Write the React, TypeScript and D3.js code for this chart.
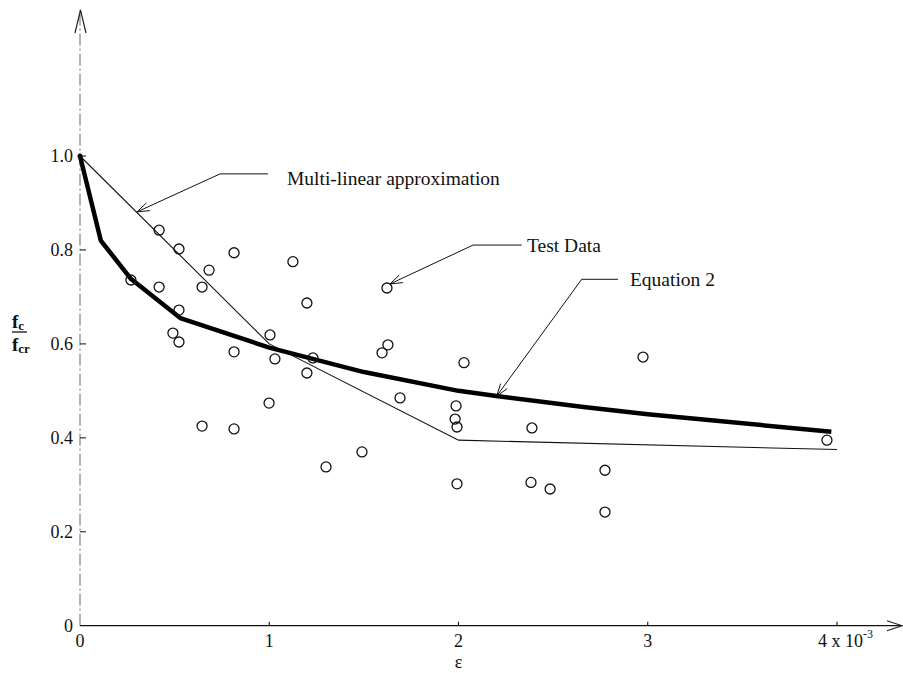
import React from "react";
import * as d3 from "d3";

// Test data (strain x 10^-3, fc/fcr)
const testX = [0.418, 0.523, 0.814, 1.125, 0.682, 0.269, 0.418, 0.645, 0.523, 0.491, 0.523, 0.814, 1.004, 1.030, 0.999, 0.645, 0.814, 1.199, 1.231, 1.199, 1.622, 1.627, 1.596, 2.029, 1.691, 1.987, 1.982, 1.992, 2.388, 1.300, 1.490, 1.992, 2.383, 2.484, 2.774, 2.774, 2.975, 3.947];
const testY = [0.842, 0.802, 0.794, 0.775, 0.757, 0.736, 0.721, 0.721, 0.672, 0.623, 0.604, 0.583, 0.619, 0.568, 0.474, 0.425, 0.419, 0.687, 0.570, 0.538, 0.719, 0.598, 0.581, 0.560, 0.485, 0.468, 0.440, 0.423, 0.421, 0.338, 0.370, 0.302, 0.305, 0.291, 0.331, 0.242, 0.572, 0.395];

// Multi-linear approximation
const multiX = [0, 1.0, 2.0, 4.0];
const multiY = [1.0, 0.6, 0.395, 0.375];

// Equation 2
const eqX = [0, 0.11, 0.27, 0.53, 1.0, 1.5, 2.0, 2.2, 2.65, 3.0, 3.97];
const eqY = [1.0, 0.82, 0.738, 0.655, 0.592, 0.54, 0.5, 0.489, 0.466, 0.45, 0.413];

const xTicks = [0, 1, 2, 3];
const xTickLabels = ["0", "1", "2", "3"];
const yTicks = [0, 0.2, 0.4, 0.6, 0.8, 1.0];
const yTickLabels = ["0", "0.2", "0.4", "0.6", "0.8", "1.0"];

// annotations
const annLabels = ["Multi-linear approximation", "Test Data", "Equation 2"];
const annTipX = [0.301, 1.638, 2.202];
const annTipY = [0.881, 0.7275, 0.489];
const annElbowX = [0.740, 2.077, 2.651];
const annElbowY = [0.9619, 0.8104, 0.7375];
const annEndX = [0.9934, 2.334, 2.843];
const annTextX = [1.094, 2.362, 2.906];
const annTextY = [0.9383, 0.7956, 0.7232];

const FONT = "'Liberation Serif', 'Times New Roman', serif";

export default function App() {
  const x = d3.scaleLinear().domain([0, 4]).range([80, 837]);
  const y = d3.scaleLinear().domain([0, 1]).range([625.7, 156]);

  const line = d3.line<[number, number]>().x((d) => x(d[0])).y((d) => y(d[1]));
  const multiPts: [number, number][] = multiX.map((v, i) => [v, multiY[i]]);
  const eqPts: [number, number][] = eqX.map((v, i) => [v, eqY[i]]);

  const x0 = x(0);
  const y0 = y(0);

  const arrowHead = (tx: number, ty: number, fx: number, fy: number, len = 13, ang = 0.33) => {
    const a = Math.atan2(fy - ty, fx - tx);
    const p1 = [tx + len * Math.cos(a + ang), ty + len * Math.sin(a + ang)];
    const p2 = [tx + len * Math.cos(a - ang), ty + len * Math.sin(a - ang)];
    return `M${p1[0]},${p1[1]}L${tx},${ty}L${p2[0]},${p2[1]}`;
  };

  return (
    <svg
      width={903}
      height={673}
      style={{ position: "absolute", left: 0, top: 0, background: "#fff" }}
      fontFamily={FONT}
    >
      <rect x={0} y={0} width={903} height={673} fill="#fff" />
      {/* Y axis */}
      <line x1={x0} y1={y0} x2={x0} y2={10} stroke="#666" strokeWidth={1} strokeDasharray="12,3,2,3" />
      <path d={`M${x0 - 5},${33}L${x0 + 0.5},${10}L${x0 + 6},${33}`} fill="none" stroke="#222" strokeWidth={1.2} />
      {yTicks.map((t, i) => (
        <g key={"yt" + i}>
          {t > 0 && <line x1={x0} x2={x0 + 6} y1={y(t)} y2={y(t)} stroke="#333" strokeWidth={1.2} />}
          <text x={73} y={y(t)} dy="0.35em" textAnchor="end" fontSize={18} fill="#111">
            {yTickLabels[i]}
          </text>
        </g>
      ))}
      {/* X axis */}
      <line x1={x0} y1={y0} x2={902} y2={y0} stroke="#111" strokeWidth={1.3} />
      <path d={`M887,${y0 - 5}L902,${y0}L887,${y0 + 5}`} fill="none" stroke="#222" strokeWidth={1.1} />
      {[1, 2, 3, 4].map((t) => (
        <line key={"xt" + t} x1={x(t)} x2={x(t)} y1={y0} y2={y0 - 4} stroke="#111" strokeWidth={1.1} />
      ))}
      {xTicks.map((t, i) => (
        <text key={"xl" + i} x={x(t)} y={647} textAnchor="middle" fontSize={18} fill="#111">
          {xTickLabels[i]}
        </text>
      ))}
      <text x={x(4) - 19} y={647} fontSize={18} fill="#111">
        4 x 10
        <tspan dy={-9} fontSize={12}>-3</tspan>
      </text>
      <text x={x(2)} y={668} textAnchor="middle" fontSize={18} fill="#111">
        ε
      </text>
      {/* Y label fraction */}
      <text x={12} y={328} fontSize={19} fontWeight="bold" fill="#111">
        f<tspan fontSize={13} dy={2}>c</tspan>
      </text>
      <line x1={12} x2={27} y1={332} y2={332} stroke="#111" strokeWidth={1.3} />
      <text x={12} y={351} fontSize={19} fontWeight="bold" fill="#111">
        f<tspan fontSize={13} dy={2}>cr</tspan>
      </text>

      {/* Multi-linear approximation */}
      <path d={line(multiPts) || ""} fill="none" stroke="#111" strokeWidth={1.1} />
      {/* Equation 2 */}
      <path d={line(eqPts) || ""} fill="none" stroke="#000" strokeWidth={4.5} strokeLinejoin="round" />
      <circle cx={x(0)} cy={y(1)} r={2.5} fill="#000" />

      {/* Test data */}
      {testX.map((v, i) => (
        <circle key={"p" + i} cx={x(v)} cy={y(testY[i])} r={5} fill="none" stroke="#111" strokeWidth={1.3} />
      ))}

      {/* Annotations */}
      {annLabels.map((lab, i) => {
        const tx = x(annTipX[i]);
        const ty = y(annTipY[i]);
        const ex = x(annElbowX[i]);
        const ey = y(annElbowY[i]);
        const endx = x(annEndX[i]);
        return (
          <g key={"ann" + i}>
            <path d={`M${endx},${ey}L${ex},${ey}L${tx},${ty}`} fill="none" stroke="#111" strokeWidth={1} />
            <path d={arrowHead(tx, ty, ex, ey)} fill="none" stroke="#111" strokeWidth={1} />
            <text x={x(annTextX[i])} y={y(annTextY[i])} fontSize={19.5} fill="#111">
              {lab}
            </text>
          </g>
        );
      })}
    </svg>
  );
}
